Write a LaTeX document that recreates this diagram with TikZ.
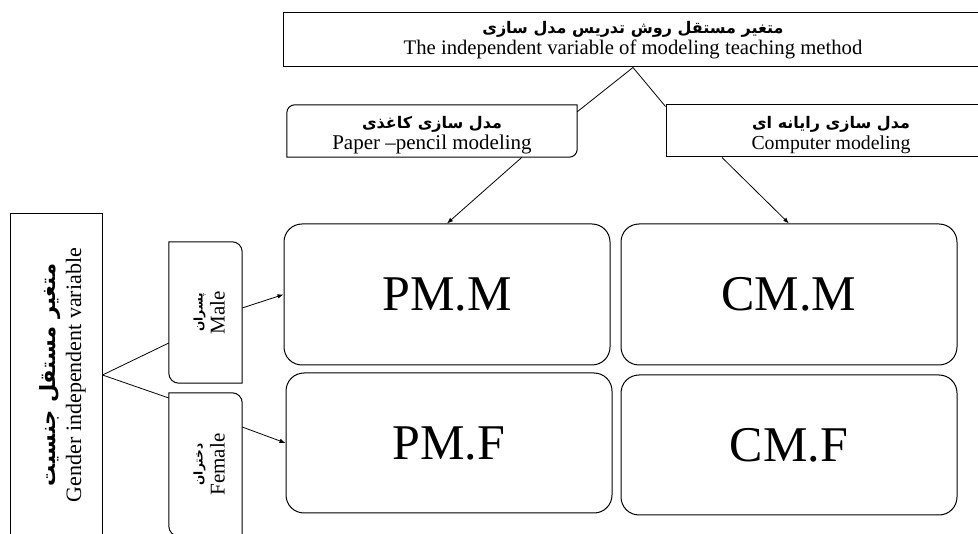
\documentclass[tikz,border=0pt]{standalone}
\usepackage{fontspec}
\setmainfont{Liberation Serif}
\newfontfamily\persianfont[Script=Arabic]{DejaVu Sans}
\TeXXeTstate=1
\setlength{\lineskiplimit}{-30pt}
\usetikzlibrary{arrows.meta,positioning}

% persian size, and struts that set where the two lines sit
\newcommand{\fasize}[1]{\fontsize{#1}{#1}\persianfont\bfseries}
\newcommand{\upline}[1]{\rule{0pt}{#1}}
\newcommand{\lowline}[1]{\rule[-#1]{0pt}{#1}}
% frame with two round corners (north west, south east)
\newcommand{\cornerframe}[2]{\draw[line width=1pt] (#1.west) {[rounded corners=#2] -- (#1.north west) -- (#1.north)} -- (#1.north east) -- (#1.east) {[rounded corners=#2] -- (#1.south east) -- (#1.south)} -- (#1.south west) -- cycle;}

\tikzset{
	box/.style={draw, line width=1pt, inner sep=0pt, align=center},
	textbox/.style={inner sep=0pt, align=center},
	cell/.style={box, rounded corners=18pt, minimum height=141pt, font=\fontsize{50}{50}\selectfont},
	conn/.style={line width=0.8pt},
	arr/.style={conn, -{Latex[length=6pt,width=4.5pt]}}
}

\begin{document}
\begin{tikzpicture}[x=1pt,y=-1pt]

\useasboundingbox (0,0) rectangle (978,534);
\clip (0,0) rectangle (978,534);

\begin{scope}
	\coordinate (m0) at (633,40);
	\coordinate (m1) at ([xshift=-201pt,yshift=-91pt]m0);
	\coordinate (m2) at ([xshift=399pt]m1);
	%
	\coordinate (c0) at (447,294.5);
	\coordinate (c1) at ([xshift=342pt]c0);
	\coordinate (c2) at ([xshift=2pt,yshift=-148.5pt]c0);
	\coordinate (c3) at ([yshift=-150.5pt]c1);
	%
	\coordinate (g0) at (56,375);
	\coordinate (g1) at (205.5,312.5);
	\coordinate (g2) at ([yshift=-152pt]g1);
\end{scope}

\node[box, minimum width=700pt, minimum height=54pt, font=\fontsize{20.7}{21}\selectfont] (method) at (m0)
	{\upline{17pt}{\fasize{16}\beginR متغیر مستقل روش تدریس مدل سازی\endR}\\The independent variable of modeling teaching method\lowline{8pt}};
\node[textbox, minimum width=290pt, minimum height=52pt, font=\fontsize{21}{21}\selectfont] (paper) at (m1)
	{\upline{22pt}{\fasize{16}\beginR مدل سازی کاغذی\endR}\\Paper --pencil modeling\lowline{5pt}};
\node[box, minimum width=330pt, minimum height=52pt, font=\fontsize{19.8}{21}\selectfont] (comp) at (m2)
	{\upline{22pt}{\fasize{16}\beginR مدل سازی رایانه ای\endR}\\Computer modeling\lowline{5pt}};
\cornerframe{paper}{8pt}

\node[cell, minimum width=326pt] (pmm) at (c0) {PM.M};
\node[cell, minimum width=336pt] (cmm) at (c1) {CM.M};
\node[cell, minimum width=326pt, minimum height=140pt] (pmf) at (c2) {PM.F};
\node[cell, minimum width=336pt, minimum height=140pt] (cmf) at (c3) {CM.F};

\node[box, rotate=90, minimum width=322pt, minimum height=92pt, font=\fontsize{22}{25}\selectfont] (gender) at (g0)
	{\upline{31pt}{\fasize{21}\beginR متغیر مستقل جنسیت\endR}\\Gender independent variable\lowline{6pt}};
\node[textbox, rotate=90, minimum width=141pt, minimum height=73pt, font=\fontsize{21}{22}\selectfont] (male) at (g1)
	{\upline{21pt}{\fasize{12}\beginR پسران\endR}\\Male\lowline{5pt}};
\node[textbox, rotate=90, minimum width=143pt, minimum height=73pt, font=\fontsize{21}{22}\selectfont] (female) at (g2)
	{\upline{21pt}{\fasize{12}\beginR دختران\endR}\\Female\lowline{5pt}};
\cornerframe{male}{10pt}
\cornerframe{female}{10pt}

\draw[conn]
	(method.south) -- ([yshift=-7pt]paper.north east)
	(method.south) -- ([yshift=-2pt]comp.north west)
	(gender.south) -- ([yshift=-30.5pt]male.north)
	(gender.south) -- ([yshift=66.5pt]female.north);

\draw[arr] ([xshift=90pt]paper.south) -- (pmm.north);
\draw[arr] ([xshift=-109pt]comp.south) -- (cmm.north);
\draw[arr] ([yshift=4.5pt]male.south) -- (pmm.west);
\draw[arr] ([yshift=37.5pt]female.south) -- (pmf.west);

\end{tikzpicture}
\end{document}
